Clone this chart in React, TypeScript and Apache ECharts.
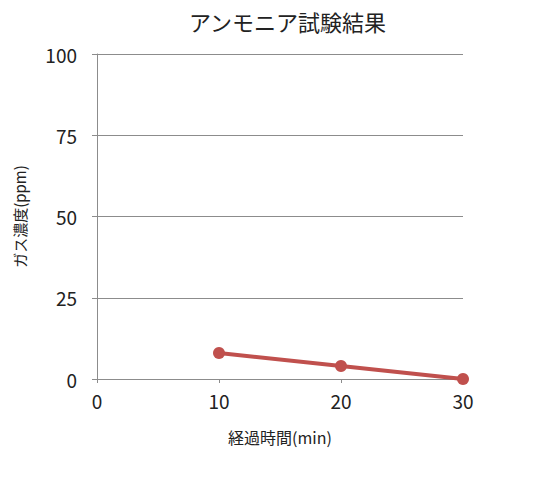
import React, { useEffect, useRef } from "react";
import * as echarts from "echarts";

const titleText = "アンモニア試験結果";
const xName = "経過時間(min)";
const yName = "ガス濃度(ppm)";
const times = [10, 20, 30];
const concentrations = [8, 4, 0];

export default function App() {
  const ref = useRef<HTMLDivElement>(null);
  useEffect(() => {
    if (!ref.current) return;
    const chart = echarts.init(ref.current, null, { renderer: "svg" });
    const font = "'Noto Sans CJK JP', 'Noto Sans', sans-serif";
    chart.setOption({
      animation: false,
      backgroundColor: "#ffffff",
      title: {
        text: titleText,
        left: 184,
        top: 5,
        textStyle: { fontFamily: font, fontSize: 22, fontWeight: "normal", color: "#222" },
      },
      grid: { left: 97, right: 73, top: 54, bottom: 115, containLabel: false },
      xAxis: {
        type: "value",
        min: 0,
        max: 30,
        interval: 10,
        name: xName,
        nameLocation: "middle",
        nameGap: 50,
        nameTextStyle: { fontFamily: font, fontSize: 16, color: "#222" },
        axisLine: { show: true, lineStyle: { color: "#8c8c8c", width: 1 } },
        axisTick: { show: true, length: 4, lineStyle: { color: "#8c8c8c" } },
        axisLabel: { fontFamily: font, fontSize: 19, color: "#222", margin: 12 },
        splitLine: { show: false },
      },
      yAxis: {
        type: "value",
        min: 0,
        max: 100,
        interval: 25,
        name: yName,
        nameLocation: "middle",
        nameGap: 70,
        nameRotate: 90,
        nameTextStyle: { fontFamily: font, fontSize: 15, color: "#222" },
        axisLine: { show: true, lineStyle: { color: "#8c8c8c", width: 1 } },
        axisTick: { show: true, length: 5, lineStyle: { color: "#8c8c8c" } },
        axisLabel: { fontFamily: font, fontSize: 19, color: "#222", margin: 20 },
        splitLine: { show: true, lineStyle: { color: "#8c8c8c", width: 1 } },
      },
      series: [
        {
          type: "line",
          data: times.map((t, i) => [t, concentrations[i]]),
          symbol: "circle",
          symbolSize: 12,
          lineStyle: { color: "#c0504d", width: 4 },
          itemStyle: { color: "#c0504d" },
        },
      ],
    });
    return () => chart.dispose();
  }, []);
  return <div ref={ref} style={{ width: 536, height: 494, position: "absolute", left: 0, top: 0 }} />;
}
